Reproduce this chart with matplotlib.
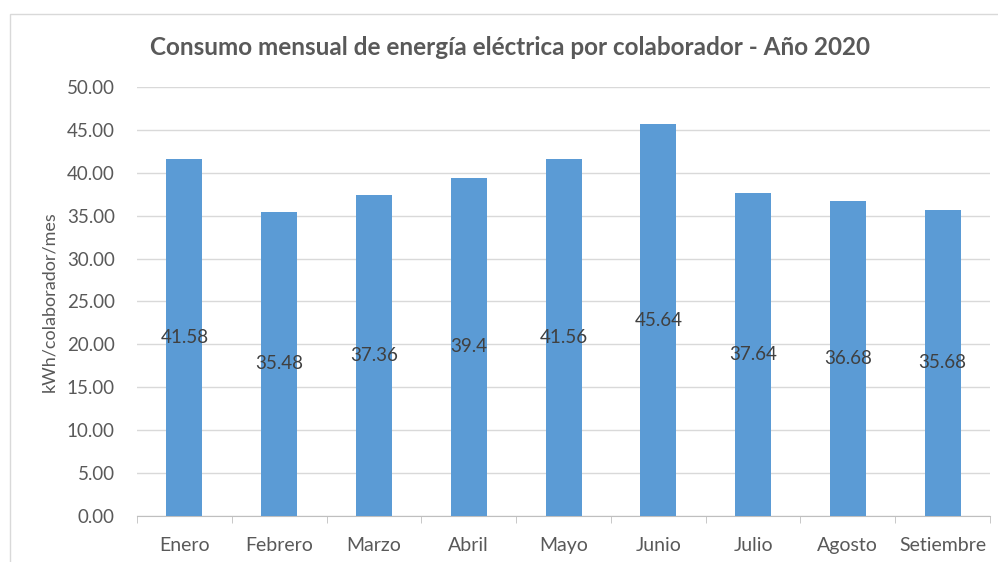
import matplotlib
matplotlib.use("Agg")
import matplotlib.pyplot as plt
from matplotlib.patches import Rectangle

plt.rcParams['font.family'] = ['Lato', 'DejaVu Sans']

meses = ['Enero', 'Febrero', 'Marzo', 'Abril', 'Mayo', 'Junio', 'Julio', 'Agosto', 'Setiembre']
consumo = [41.58, 35.48, 37.36, 39.4, 41.56, 45.64, 37.64, 36.68, 35.68]
etiquetas = ['41.58', '35.48', '37.36', '39.4', '41.56', '45.64', '37.64', '36.68', '35.68']

azul = '#5B9BD5'
gris_txt = '#595959'

fig = plt.figure(figsize=(9.98, 5.62), dpi=100)
ax = fig.add_axes([0.1373, 0.0819, 0.8547, 0.7633])

x = range(len(meses))
bars = ax.bar(x, consumo, width=0.38, color=azul, zorder=3)

# etiquetas de datos al centro de cada barra
for b, txt in zip(bars, etiquetas):
    ax.text(b.get_x() + b.get_width() / 2, b.get_height() / 2, txt,
            ha='center', va='center', fontsize=13.5, color='#404040', zorder=4)

ax.set_ylim(0, 50)
ax.set_xlim(-0.5, len(meses) - 0.5)
ax.set_yticks(range(0, 51, 5))
ax.set_yticklabels(['%.2f' % v for v in range(0, 51, 5)])
ax.set_xticks(list(x))
ax.set_xticklabels(meses)
ax.set_xticks([i - 0.5 for i in range(len(meses) + 1)], minor=True)

ax.grid(axis='y', color='#D9D9D9', linewidth=1, zorder=0)
for s in ['top', 'right', 'left']:
    ax.spines[s].set_visible(False)
ax.spines['bottom'].set_color('#BFBFBF')
ax.tick_params(axis='y', length=0, labelsize=13.5, labelcolor=gris_txt, pad=16)
ax.tick_params(axis='x', which='major', length=0, labelsize=14, labelcolor=gris_txt, pad=15)
ax.tick_params(axis='x', which='minor', length=5, color='#BFBFBF')

ax.set_ylabel('kWh/colaborador/mes', fontsize=13, color=gris_txt, labelpad=7)

fig.text(0.511, 0.915, 'Consumo mensual de energía eléctrica por colaborador - Año 2020',
         ha='center', va='center', fontsize=17.5, fontweight='bold', color='#595959')

fig.patches.append(Rectangle((10 / 998, -0.1), 1.2, (562 - 14) / 562 + 0.1,
                             transform=fig.transFigure, fill=False,
                             edgecolor='#D9D9D9', linewidth=1))

fig.savefig('out.png', dpi=100)
